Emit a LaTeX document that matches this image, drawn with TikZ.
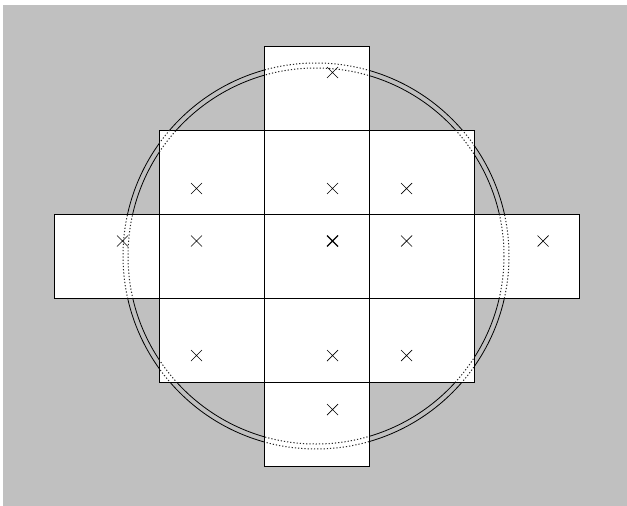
\documentclass[tikz,border=0pt]{standalone}
\begin{document}
\begin{tikzpicture}[x=1pt,y=-1pt,
  cellbox/.style={fill=white,draw=black,line width=0.9pt},
  ringline/.style={draw=black,line width=0.8pt},
  hiddenring/.style={draw=black!85,line width=1pt,dash pattern=on 1.2pt off 2pt},
  crossmark/.style={draw=black,line width=0.7pt}]
\useasboundingbox (0,0) rectangle (627,506);
\fill[fill={rgb,255:red,192;green,192;blue,192}] (3,5) rectangle (627,506);
% solid double ring (under the cells)
\draw[ringline] (316,256) circle[radius=188];
\draw[ringline] (316,256) circle[radius=193];
% cells
\foreach \xa/\ya/\xb/\yb in {
  264.3/46.7/369.3/130,
  159.3/130/264.3/214.5, 264.3/130/369.3/214.5, 369.3/130/474.5/214.5,
  54.3/214.5/159.3/298.3, 159.3/214.5/264.3/298.3, 369.3/214.5/474.5/298.3, 474.5/214.5/579.5/298.3,
  159.3/298.3/264.3/382, 264.3/298.3/369.3/382, 369.3/298.3/474.5/382,
  264.3/382/369.3/466.5}
  \draw[cellbox] (\xa,\ya) rectangle (\xb,\yb);
\draw[cellbox,line width=1.3pt] (264.3,214.5) rectangle (369.3,298.3);
% dotted double ring, seen only over the cells
\begin{scope}
\clip (54.3,214.5) rectangle (579.5,298.3) (159.3,130) rectangle (474.5,382) (264.3,46.7) rectangle (369.3,466.5);
\draw[hiddenring] (316,256) circle[radius=188];
\draw[hiddenring] (316,256) circle[radius=193];
\end{scope}
% crosses
\foreach \cx/\cy in {332.5/72.5,
  196.5/188.5, 332.5/188.5, 406.5/188.5,
  122.5/241, 196.5/241, 406.5/241, 543/241,
  196.5/355.5, 332.5/355.5, 406.5/355.5,
  332.5/409.5}
  \draw[crossmark] (\cx-5.5,\cy-5.5) -- (\cx+5.5,\cy+5.5) (\cx-5.5,\cy+5.5) -- (\cx+5.5,\cy-5.5);
\draw[crossmark,line width=1.1pt] (332.5-5.5,241-5.5) -- (332.5+5.5,241+5.5) (332.5-5.5,241+5.5) -- (332.5+5.5,241-5.5);
\end{tikzpicture}
\end{document}
